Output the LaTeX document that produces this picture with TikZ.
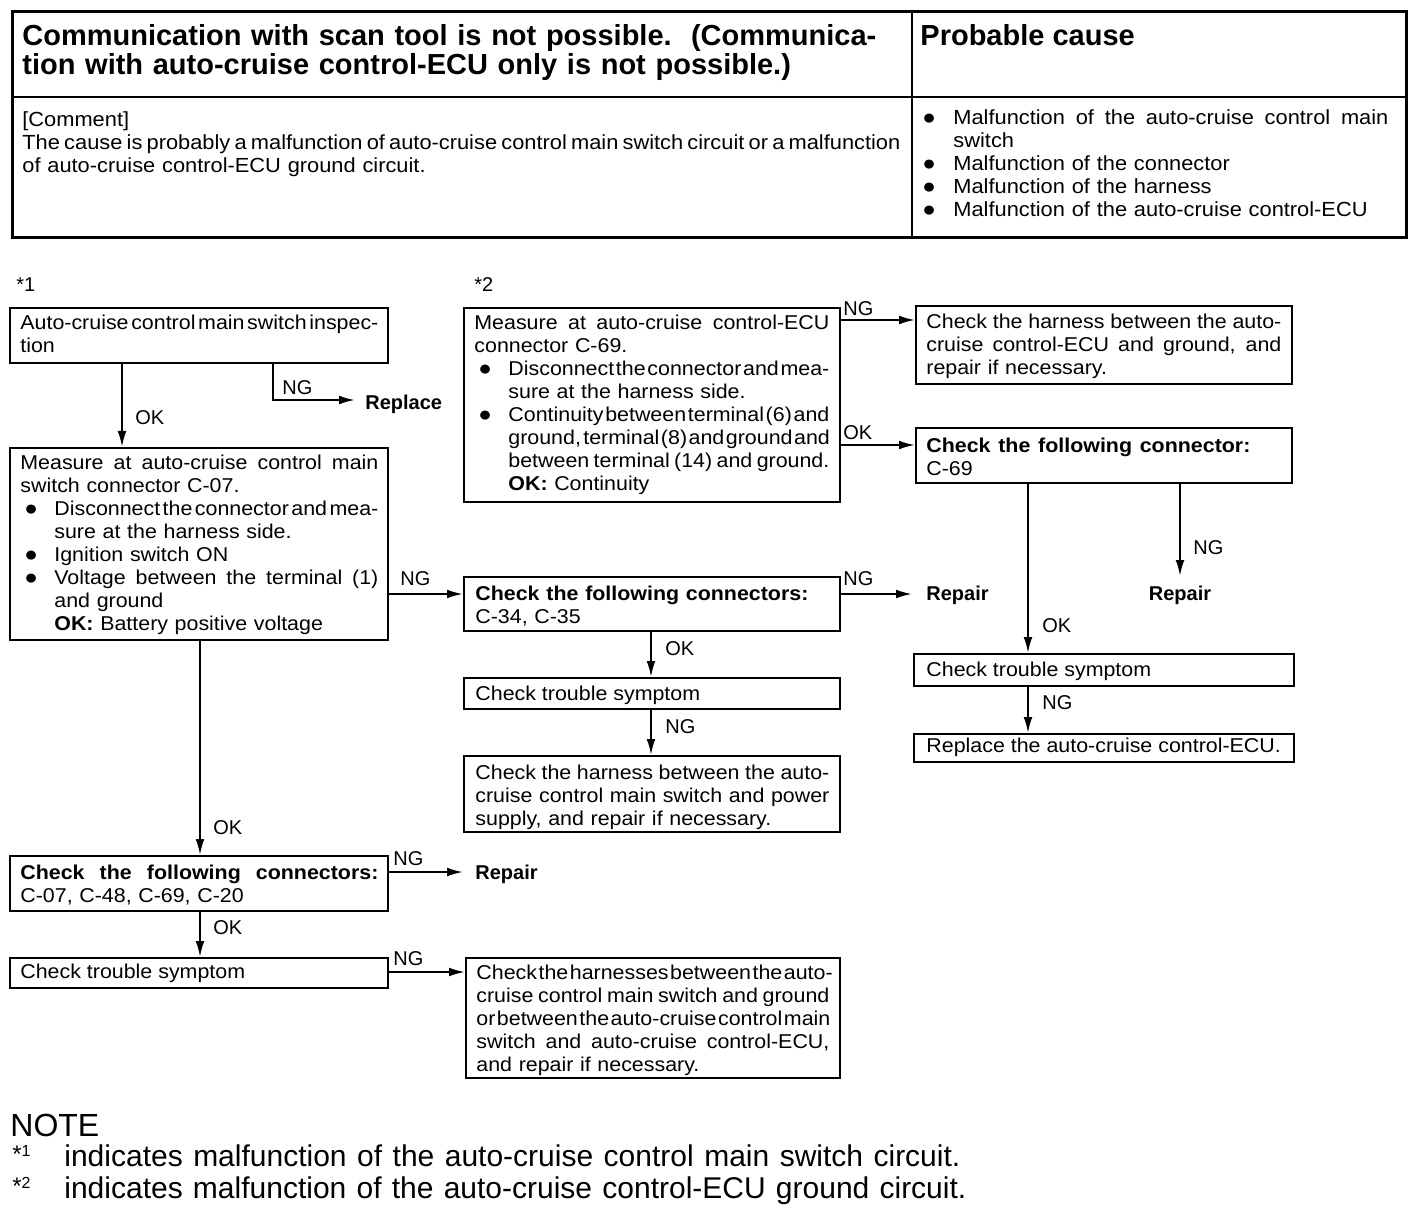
\documentclass[tikz,border=0pt]{standalone}
\usepackage{fontspec}
\setmainfont{Liberation Sans}
\newfontfamily\bodyfam[FakeStretch=1.07]{Liberation Sans}
\usetikzlibrary{arrows.meta,fit}
\newcommand{\bodyf}{\bodyfam\fontsize{10pt}{11.5pt}\selectfont}
\newcommand{\hdrf}{\fontsize{14.5pt}{14.5pt}\selectfont\bfseries}
\newcommand{\cmtf}{\bodyfam\fontsize{10.2pt}{11.5pt}\selectfont}
\newcommand{\lblf}{\fontsize{10pt}{11.5pt}\selectfont}
\newcommand{\notef}{\fontsize{15pt}{16pt}\selectfont}
\newlength{\bind}
\setlength{\bind}{17pt}
\newcommand{\bul}{{\fontsize{10.5pt}{10.5pt}\selectfont ●}}
\newcommand{\flex}{\spaceskip=0.278em plus 1fil minus 0.2em\xspaceskip=\spaceskip\relax}
\newcommand{\lnJ}[1]{\makebox[\hsize][s]{\flex #1}}
\newcommand{\lnBJ}[1]{\makebox[\bind][l]{\hspace{2pt}\bul}\makebox[\dimexpr\hsize-\bind\relax][s]{\flex #1}}
\newcommand{\lnBL}[1]{\makebox[\bind][l]{\hspace{2pt}\bul}#1}
\newcommand{\lnIJ}[1]{\hspace*{\bind}\makebox[\dimexpr\hsize-\bind\relax][s]{\flex #1}}
\newcommand{\lnIL}[1]{\hspace*{\bind}#1}
\begin{document}
\begin{tikzpicture}[x=0.5pt,y=-0.5pt,
  box/.style={draw,line width=1pt,inner sep=0pt},
  txt/.style={inner sep=0pt,anchor=base west,align=left,font=\bodyf},
  lbl/.style={inner sep=0pt,anchor=base west,font=\lblf},
  blbl/.style={inner sep=0pt,anchor=base west,font=\lblf\bfseries},
  arr/.style={line width=1pt,-{Latex[length=8pt,width=4.4pt]}},
  ln/.style={line width=1pt}]
\useasboundingbox (0,0) rectangle (1424,1208);

% ---------- header table ----------
\node[draw,line width=1.5pt,inner sep=0pt,fit={(12,12) (1406,238)}] (hdr) {};
\coordinate (vx) at (912,0);
\coordinate (hy) at (0,97);
\draw[ln] (vx |- hdr.north) -- (vx |- hdr.south);
\draw[ln] (hdr.west |- hy) -- (hdr.east |- hy);
\node[txt,font=\hdrf,text width=440pt] (title) at (22,46)
  {Communication with scan tool is not possible.\ \ (Communica-\\tion with auto-cruise control-ECU only is not possible.)};
\node[txt,font=\hdrf] (pc) at (920,46) {Probable cause};
\node[txt,font=\cmtf,text width=439pt] (cmt) at (22,127)
  {[Comment]\\
   \lnJ{The cause is probably a malfunction of auto-cruise control main switch circuit or a malfunction}\\
   of auto-cruise control-ECU ground circuit.};
\begingroup
\setlength{\bind}{15.5pt}
\node[txt,font=\cmtf,text width=233pt] (causes) at (922,125)
  {\makebox[\bind][l]{\bul}\makebox[\dimexpr\hsize-\bind\relax][s]{\flex Malfunction of the auto-cruise control main}\\
   \hspace*{\bind}switch\\
   \makebox[\bind][l]{\bul}Malfunction of the connector\\
   \makebox[\bind][l]{\bul}Malfunction of the harness\\
   \makebox[\bind][l]{\bul}Malfunction of the auto-cruise control-ECU};
\endgroup

% ---------- star labels ----------
\node[lbl] (s1) at (16,292) {*1};
\node[lbl] (s2) at (474,292) {*2};

% ---------- boxes ----------
\node[box,fit={(10,308) (388,363)}] (A) {};
\node[box,fit={(10,448) (388,640)}] (B) {};
\node[box,fit={(464,308) (840,502)}] (C) {};
\node[box,fit={(916,306) (1292,384)}] (F) {};
\node[box,fit={(916,428) (1292,483)}] (G) {};
\node[box,fit={(464,577) (840,631)}] (D) {};
\node[box,fit={(464,678) (840,709)}] (H) {};
\node[box,fit={(464,756) (840,832)}] (I) {};
\node[box,fit={(914,654) (1294,686)}] (Jb) {};
\node[box,fit={(914,734) (1294,762)}] (K) {};
\node[box,fit={(10,856) (388,911)}] (E) {};
\node[box,fit={(10,958) (388,988)}] (L) {};
\node[box,fit={(466,958) (840,1078)}] (M) {};

% ---------- box texts ----------
\node[txt,text width=179pt] (At) at (20,330)
  {\lnJ{Auto-cruise control main switch inspec-}\\tion};
\node[txt,text width=179pt] (Bt) at (20,470)
  {\lnJ{Measure at auto-cruise control main}\\
   switch connector C-07.\\
   \lnBJ{Disconnect the connector and mea-}\\
   \lnIL{sure at the harness side.}\\
   \lnBL{Ignition switch ON}\\
   \lnBJ{Voltage between the terminal (1)}\\
   \lnIL{and ground}\\
   \lnIL{\textbf{OK:} Battery positive voltage}};
\node[txt,text width=177.5pt] (Ct) at (474,330)
  {\lnJ{Measure at auto-cruise control-ECU}\\
   connector C-69.\\
   \lnBJ{Disconnect the connector and mea-}\\
   \lnIL{sure at the harness side.}\\
   \lnBJ{Continuity between terminal (6) and}\\
   \lnIJ{ground, terminal (8) and ground and}\\
   \lnIJ{between terminal (14) and ground.}\\
   \lnIL{\textbf{OK:} Continuity}};
\node[txt,text width=177.5pt] (Ft) at (926,329)
  {\lnJ{Check the harness between the auto-}\\
   \lnJ{cruise control-ECU and ground, and}\\
   repair if necessary.};
\node[txt,text width=177.5pt] (Gt) at (926,452)
  {\makebox[162pt][s]{\flex\bfseries Check the following connector:}\\C-69};
\node[txt,text width=177.5pt] (Dt) at (475,600)
  {\makebox[166.5pt][s]{\flex\bfseries Check the following connectors:}\\C-34, C-35};
\node[txt] (Ht) at (475,700) {Check trouble symptom};
\node[txt,text width=177pt] (It) at (475,779)
  {\lnJ{Check the harness between the auto-}\\
   \lnJ{cruise control main switch and power}\\
   supply, and repair if necessary.};
\node[txt] (Jt) at (926,676) {Check trouble symptom};
\node[txt] (Kt) at (926,752) {Replace the auto-cruise control-ECU.};
\node[txt,text width=179pt] (Et) at (20,879)
  {\lnJ{\bfseries Check the following connectors:}\\C-07, C-48, C-69, C-20};
\node[txt] (Lt) at (20,978) {Check trouble symptom};
\node[txt,text width=176.5pt] (Mt) at (476,979)
  {\lnJ{Check the harnesses between the auto-}\\
   \lnJ{cruise control main switch and ground}\\
   \lnJ{or between the auto-cruise control main}\\
   \lnJ{switch and auto-cruise control-ECU,}\\
   and repair if necessary.};

% ---------- end labels ----------
\node[blbl] (rep1) at (365,409) {Replace};
\node[blbl] (rep2) at (926,600) {Repair};
\node[blbl,anchor=base] (rep3) at (1180,600) {Repair};
\node[blbl] (rep4) at (475,879) {Repair};

% ---------- helper coordinates ----------
\coordinate (x122) at (122,0);
\coordinate (x273) at (273,0);
\coordinate (x200) at (200,0);
\coordinate (x651) at (651,0);
\coordinate (x1028) at (1028,0);
\coordinate (x1180) at (1180,0);
\coordinate (y594) at (0,594);
\coordinate (y320) at (0,320);
\coordinate (y445) at (0,445);
\coordinate (y872) at (0,872);
\coordinate (y972) at (0,972);
\coordinate (e1) at (355,400);
\coordinate (e2) at (912,594);
\coordinate (e3) at (1180,576);
\coordinate (e4) at (463,872);

% ---------- connectors ----------
\draw[arr] (A.south -| x122) -- (B.north -| x122);
\node[lbl] (l1) at (135,425) {OK};
\draw[arr] (A.south -| x273) |- (e1);
\node[lbl] (l2) at (282,395) {NG};

\draw[arr] (B.east |- y594) -- (D.west |- y594);
\node[lbl] (l3) at (400,585) {NG};
\draw[arr] (B.south -| x200) -- (E.north -| x200);
\node[lbl] (l4) at (213,834) {OK};

\draw[arr] (C.east |- y320) -- (F.west |- y320);
\node[lbl] (l5) at (843,316) {NG};
\draw[arr] (C.east |- y445) -- (G.west |- y445);
\node[lbl] (l6) at (843,440) {OK};

\draw[arr] (G.south -| x1028) -- (Jb.north -| x1028);
\node[lbl] (l7) at (1042,632) {OK};
\draw[arr] (G.south -| x1180) -- (e3);
\node[lbl] (l8) at (1193,554) {NG};

\draw[arr] (D.east |- y594) -- (e2);
\node[lbl] (l9) at (843,585) {NG};
\draw[arr] (D.south -| x651) -- (H.north -| x651);
\node[lbl] (l10) at (665,655) {OK};
\draw[arr] (H.south -| x651) -- (I.north -| x651);
\node[lbl] (l11) at (665,733) {NG};

\draw[arr] (Jb.south -| x1028) -- (K.north -| x1028);
\node[lbl] (l12) at (1042,709) {NG};

\draw[arr] (E.east |- y872) -- (e4);
\node[lbl] (l13) at (393,865) {NG};
\draw[arr] (E.south -| x200) -- (L.north -| x200);
\node[lbl] (l14) at (213,934) {OK};
\draw[arr] (L.east |- y972) -- (M.west |- y972);
\node[lbl] (l15) at (393,965) {NG};

% ---------- note ----------
\node[inner sep=0pt,anchor=base west,font=\fontsize{16pt}{16pt}\selectfont] (note) at (10,1136) {NOTE};
\node[inner sep=0pt,anchor=base west,font=\fontsize{12pt}{12pt}\selectfont] (n1s) at (12,1162) {*\raisebox{3pt}{\fontsize{8pt}{8pt}\selectfont 1}};
\node[inner sep=0pt,anchor=base west,font=\notef] (n1) at (64,1166)
  {\makebox[448pt][s]{indicates malfunction of the auto-cruise control main switch circuit.}};
\node[inner sep=0pt,anchor=base west,font=\fontsize{12pt}{12pt}\selectfont] (n2s) at (12,1194) {*\raisebox{3pt}{\fontsize{8pt}{8pt}\selectfont 2}};
\node[inner sep=0pt,anchor=base west,font=\notef] (n2) at (64,1198)
  {\makebox[451pt][s]{indicates malfunction of the auto-cruise control-ECU ground circuit.}};
\end{tikzpicture}
\end{document}
